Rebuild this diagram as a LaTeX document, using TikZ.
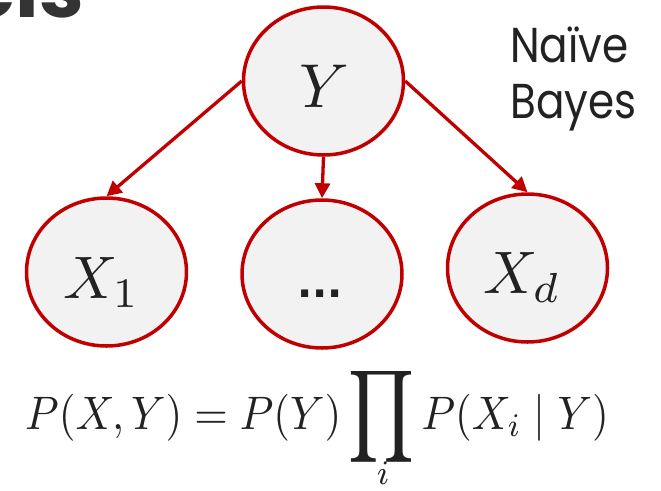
\documentclass[tikz,border=0pt]{standalone}
\usepackage{graphicx}
\usepackage{fontspec}
\usetikzlibrary{shapes.geometric,arrows.meta}
\newfontfamily\nbfont[FakeStretch=0.86]{Poppins}
\newfontfamily\hdfont{Poppins Bold}
\newfontfamily\dotfont{DejaVu Sans Bold}
\definecolor{nodered}{HTML}{C00000}
\definecolor{nodefill}{HTML}{F2F2F2}
\definecolor{txt}{HTML}{222222}
\tikzset{
  gnode/.style={ellipse, draw=nodered, fill=nodefill, line width=3.5pt,
    minimum width=160pt, minimum height=148pt, inner sep=0pt},
  arr/.style={draw=nodered, line width=3.3pt,
    -{Triangle[length=15pt,width=15pt]}},
  lbl/.style={anchor=base west, inner sep=0pt, text=txt},
}
\newcommand{\bigprod}{\mathop{\vcenter{\hbox{\scalebox{1.2}[1.38]{$\displaystyle\prod$}}}}\nolimits}
\begin{document}
\begin{tikzpicture}[x=1pt,y=-1pt]
\useasboundingbox (0,0) rectangle (661,490);
\clip (0,0) rectangle (661,490);
\fill[white] (0,0) rectangle (661,490);
% heading fragment
\node[anchor=base east, inner sep=0pt, text=black!80] (hd) at (84,17) {\hdfont\fontsize{80}{80}\selectfont els};
% nodes
\node[gnode] (Y) at (323.5,81) {};
\node[gnode] (X1) at (106.5,272) {};
\node[gnode] (D) at (322,274) {};
\node[gnode] (Xd) at (527.5,268) {};
% labels
\node[lbl] (tY) at (299,107) {\scalebox{6.2}{$Y$}};
\node[lbl] (tX1) at (63,298) {\scalebox{6}{$X_1$}};
\node[lbl] (tD) at (297,297) {\dotfont\fontsize{40}{40}\selectfont ...};
\node[lbl] (tXd) at (483,293) {\scalebox{6}{$X_d$}};
% arrows
\draw[arr] (Y.west) -- (X1.north);
\draw[arr] (Y.south) -- (D.north);
\draw[arr] (Y.east) -- (Xd.north);
% Naive Bayes
\node[lbl] (nb1) at (510,62) {\nbfont\fontsize{49}{49}\selectfont Naïve};
\node[lbl] (nb2) at (510,118) {\nbfont\fontsize{49}{49}\selectfont Bayes};
% formula
\node[lbl] (f) at (25,429) {\scalebox{4.3}[4.7]{$\displaystyle P(X,Y)=P(Y)\bigprod P(X_i\mid Y)$}};
\node[anchor=base, inner sep=0pt, text=txt] (fi) at (383,484) {\scalebox{4.5}[4.9]{$\scriptstyle i$}};
\end{tikzpicture}
\end{document}
